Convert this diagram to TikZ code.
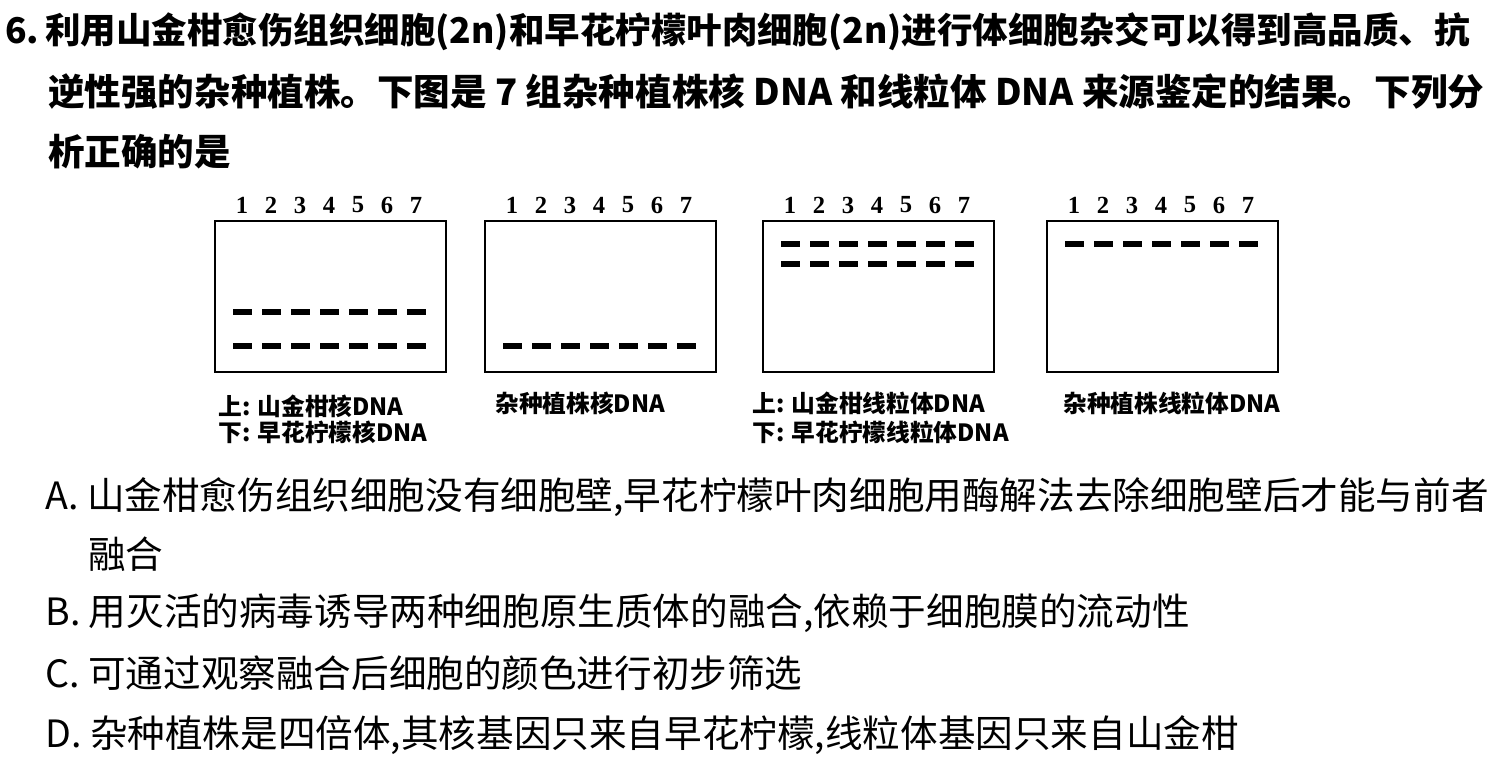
\documentclass[tikz,border=0pt]{standalone}
\usepackage{fontspec}
\setmainfont{Liberation Serif}
\newfontfamily\cjk{Noto Sans CJK SC}
\begin{document}
\begin{tikzpicture}[x=0.02cm,y=-0.02cm,
  txt/.style={anchor=west,inner sep=0pt,font=\cjk\fontsize{21.4}{24}\selectfont},
  hd/.style={anchor=west,inner sep=0pt,font=\cjk\bfseries\fontsize{20.8}{24}\selectfont},
  lbl/.style={anchor=west,inner sep=0pt,font=\cjk\bfseries\fontsize{13.5}{15}\selectfont},
  num/.style={inner sep=0pt,font=\bfseries\fontsize{14}{15}\selectfont},
  gel/.style={draw,line width=1.4pt},
  band/.style={line width=3.6pt}]
\useasboundingbox (0,0) rectangle (1498,761);
\node[hd,font=\cjk\bfseries\fontsize{20.2}{24}\selectfont] (l1) at (5,32) {6.\,利用山金柑愈伤组织细胞(2\textit{n})和早花柠檬叶肉细胞(2\textit{n})进行体细胞杂交可以得到高品质、抗};
\node[hd] (l2) at (48,92) {逆性强的杂种植株。下图是 7 组杂种植株核 DNA 和线粒体 DNA 来源鉴定的结果。下列分};
\node[hd] (l3) at (48,152) {析正确的是};
\foreach \bx/\nm in {215/a,485/b,763/c,1047/d}{
  \draw[gel] (\bx,221) rectangle (\bx+231,372);
  \foreach \i in {1,...,7}{\node[num] (n\nm\i) at (\bx+27+\i*29-29,205) {\i};}
}
\foreach \bx/\ys in {215/{312,346},485/{346},763/{244,264},1047/{244}}{
  \foreach \y in \ys {\foreach \i in {1,...,7}{\draw[band] (\bx+18+\i*29-29,\y) -- +(19,0);}}
}
\node[lbl] (t1) at (218,406) {上: 山金柑核DNA};
\node[lbl] (t2) at (218,432) {下: 早花柠檬核DNA};
\node[lbl] (t3) at (495,403) {杂种植株核DNA};
\node[lbl] (t4) at (752,403) {上: 山金柑线粒体DNA};
\node[lbl] (t5) at (752,432) {下: 早花柠檬线粒体DNA};
\node[lbl] (t6) at (1063,403) {杂种植株线粒体DNA};
\node[txt] (oa) at (45,497) {A. 山金柑愈伤组织细胞没有细胞壁,早花柠檬叶肉细胞用酶解法去除细胞壁后才能与前者};
\node[txt] (oa2) at (88,554) {融合};
\node[txt] (ob) at (45,613) {B. 用灭活的病毒诱导两种细胞原生质体的融合,依赖于细胞膜的流动性};
\node[txt] (oc) at (45,673) {C. 可通过观察融合后细胞的颜色进行初步筛选};
\node[txt] (od) at (45,735) {D. 杂种植株是四倍体,其核基因只来自早花柠檬,线粒体基因只来自山金柑};
\end{tikzpicture}
\end{document}
